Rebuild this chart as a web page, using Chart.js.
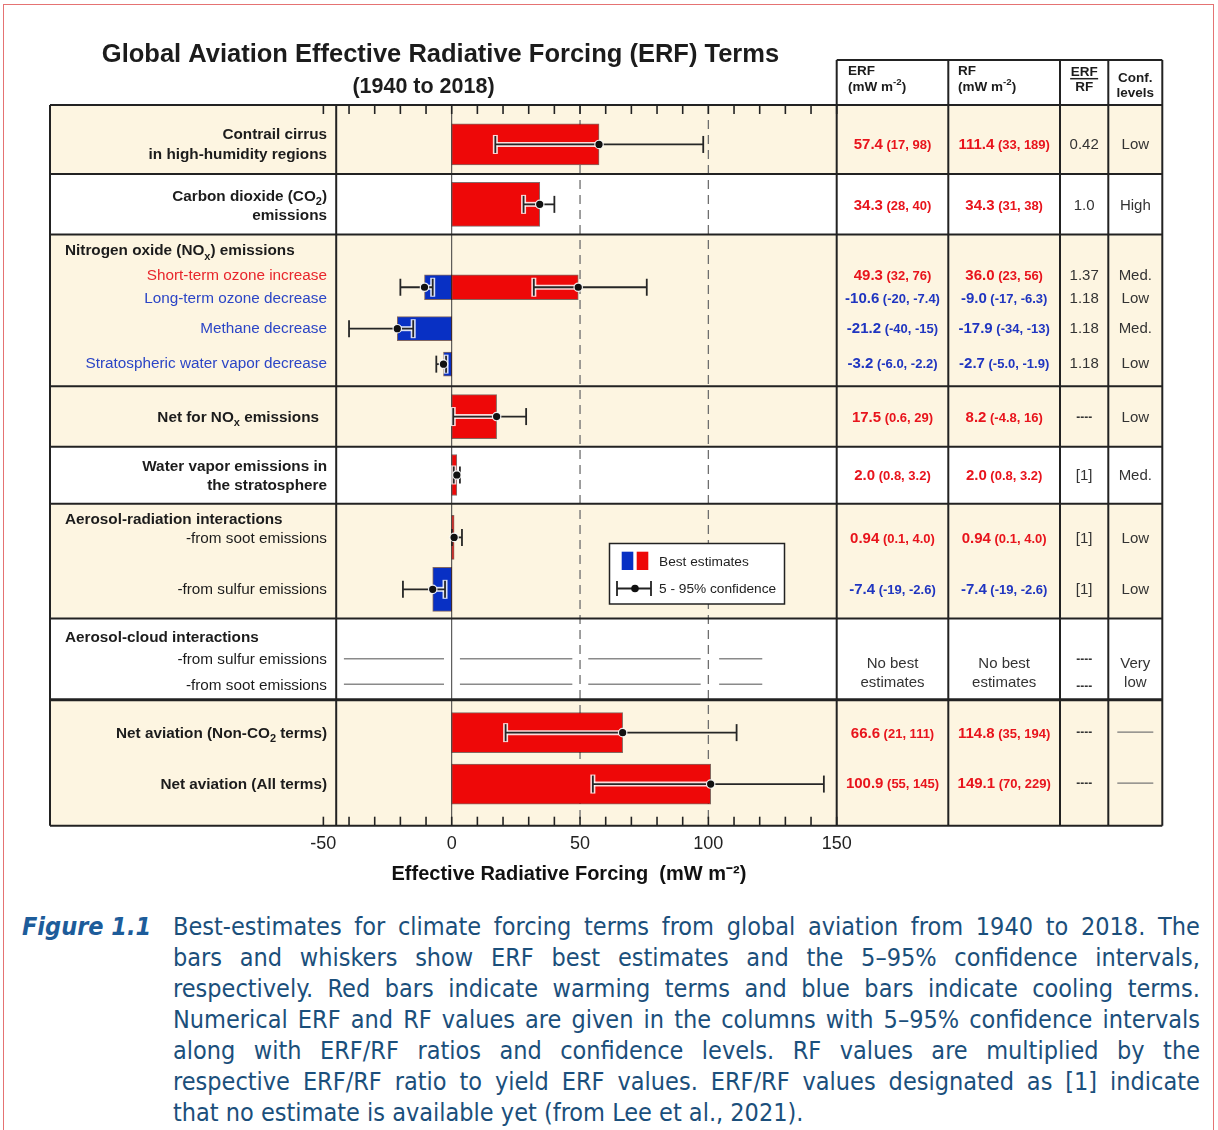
<!DOCTYPE html>
<html lang="en">
<head>
<meta charset="utf-8">
<title>Global Aviation ERF Terms</title>
<script src="https://cdn.jsdelivr.net/npm/chart.js@4.4.1/dist/chart.umd.min.js"></script>
<style>
  html, body { margin: 0; padding: 0; background: #fff; }
  body { width: 1218px; height: 1130px; position: relative; overflow: hidden; }
  #frame { position: absolute; left: 3px; top: 4px; width: 1211px; height: 1200px; border: 1px solid #e57373; box-sizing: border-box; z-index: 2; pointer-events: none; }
  #chartBox { position: absolute; left: 0; top: 0; width: 1218px; height: 900px; z-index: 1; }
  #caption { position: absolute; left: 0; top: 911px; width: 1218px; color: #1b4f7b;
    font-family: "Liberation Sans Narrow", "DejaVu Sans Condensed", "Liberation Sans", sans-serif;
    font-size: 25px; line-height: 31px; }
  #caption .fig { position: absolute; left: 22px; top: 0; font-weight: bold; font-style: italic; color: #1d5c9a; }
  #caption .body { position: absolute; left: 173px; top: 0; width: 1027px; }
  #caption .ln { display: flex; justify-content: space-between; white-space: nowrap; }
  #caption .last { white-space: nowrap; }
</style>
</head>
<body>
<div id="chartBox"><canvas id="erfChart" width="1218" height="900"></canvas></div>
<div id="frame"></div>
<div id="caption"><div class="fig">Figure 1.1</div><div class="body" id="capBody"></div></div>
<script>
// ---- values (mW m-2) ----
const termNames = [
  'Contrail cirrus\nin high-humidity regions',
  'Carbon dioxide (CO_{2})\nemissions',
  'Short-term ozone increase',
  'Long-term ozone decrease',
  'Methane decrease',
  'Stratospheric water vapor decrease',
  'Net for NO_{x} emissions',
  'Water vapor emissions in\nthe stratosphere',
  '-from soot emissions',
  '-from sulfur emissions',
  'Net aviation (Non-CO_{2} terms)',
  'Net aviation (All terms)'
];
const erfBest = [57.4, 34.3, 49.3, -10.6, -21.2, -3.2, 17.5, 2.0, 0.94, -7.4, 66.6, 100.9];
const erfLow  = [17, 28, 32, -20, -40, -6.0, 0.6, 0.8, 0.1, -19, 21, 55];
const erfHigh = [98, 40, 76, -7.4, -15, -2.2, 29, 3.2, 4.0, -2.6, 111, 145];
const rfBest  = [111.4, 34.3, 36.0, -9.0, -17.9, -2.7, 8.2, 2.0, 0.94, -7.4, 114.8, 149.1];
const rfLow   = [33, 31, 23, -17, -34, -5.0, -4.8, 0.8, 0.1, -19, 35, 70];
const rfHigh  = [189, 38, 56, -6.3, -13, -1.9, 16, 3.2, 4.0, -2.6, 194, 229];
const erfRfRatio = ['0.42', '1.0', '1.37', '1.18', '1.18', '1.18', '----', '[1]', '[1]', '[1]', '----', '----'];
const confLevel  = ['Low', 'High', 'Med.', 'Low', 'Med.', 'Low', 'Low', 'Med.', 'Low', 'Low', '', ''];
const groupHeads = ['Nitrogen oxide (NO_{x}) emissions', 'Aerosol-radiation interactions', 'Aerosol-cloud interactions'];
const cloudTerms = ['-from sulfur emissions', '-from soot emissions'];
const cloudSpans = [[-42, -3], [3.2, 47], [53.2, 97], [104.2, 121]];
const xTickLabels = [-50, 0, 50, 100, 150];
const refLines = [50, 100];

// ---- layout (vertical slots: 1 slot = 10 px of plot height) ----
const barSlot   = [3.95, 9.95, 18.25, 18.25, 22.4, 25.95, 31.2, 37.05, 43.3, 48.5, 62.85, 68.0];
const barPx     = [41, 44, 25, 25, 24, 24, 44, 41, 44, 44, 40, 40];
const textSlot  = [3.85, 10.0, 17.0, 19.3, 22.3, 25.8, 31.2, 37.05, 43.3, 48.45, 62.8, 67.9];
const labelKind = ['b', 'b', 'c', 'c', 'c', 'c', 'b', 'b', 'n', 'n', 'b', 'b'];
const headSlot  = [14.5, 41.4, 53.25];
const cloudSlot = [55.45, 58.0];
const rowEdges  = [0, 6.9, 12.97, 28.17, 34.23, 39.93, 51.43, 59.57, 72.17];
const rowFill   = ['#fdf5e1', '#ffffff', '#fdf5e1', '#fdf5e1', '#ffffff', '#fdf5e1', '#ffffff', '#fdf5e1'];
const tableCols = [836.7, 948.3, 1060, 1108.3, 1162.3];
const tableLeft = 50, headerTop = 60, labelRight = 327;

const FONT = '"Liberation Sans", Arial, Helvetica, sans-serif';
const RED = '#ee0808', BLUE = '#0830c4';
const TRED = '#e8141c', TBLUE = '#1f35c0';
const LRED = '#e8262c', LBLUE = '#2b45c6';
const INK = '#1c1c1c';

function seg(ctx, x0, y0, x1, y1) {
  ctx.beginPath(); ctx.moveTo(x0, y0); ctx.lineTo(x1, y1); ctx.stroke();
}

// text with _{sub} and ^{sup} parts, y = visual centre of capitals
function drawRich(ctx, str, x, y, align, size, weight, color) {
  const parts = [];
  const re = /([_^])\{([^}]*)\}/g;
  let last = 0, m;
  while ((m = re.exec(str))) {
    if (m.index > last) parts.push({ t: str.slice(last, m.index), k: '' });
    parts.push({ t: m[2], k: m[1] });
    last = re.lastIndex;
  }
  if (last < str.length) parts.push({ t: str.slice(last), k: '' });
  const fontFor = k => `${weight} ${k ? size * 0.72 : size}px ${FONT}`;
  let w = 0;
  parts.forEach(p => { ctx.font = fontFor(p.k); p.w = ctx.measureText(p.t).width; w += p.w; });
  let cx = align === 'right' ? x - w : align === 'center' ? x - w / 2 : x;
  const base = y + size * 0.36;
  ctx.fillStyle = color;
  ctx.textAlign = 'left';
  ctx.textBaseline = 'alphabetic';
  parts.forEach(p => {
    ctx.font = fontFor(p.k);
    const dy = p.k === '_' ? size * 0.28 : p.k === '^' ? -size * 0.4 : 0;
    ctx.fillText(p.t, cx, base + dy);
    cx += p.w;
  });
}

function decimals(v) {
  const s = String(v), k = s.indexOf('.');
  return k < 0 ? 0 : s.length - k - 1;
}
const fmtBest = v => v.toFixed(Math.max(1, decimals(v)));
const fmtCI = v => Math.abs(v) < 10 ? v.toFixed(Math.max(1, decimals(v))) : String(v);

function drawValue(ctx, best, lo, hi, cx, y) {
  const a = fmtBest(best), b = ` (${fmtCI(lo)}, ${fmtCI(hi)})`;
  ctx.font = `bold 15px ${FONT}`;
  const wa = ctx.measureText(a).width;
  ctx.font = `bold 13px ${FONT}`;
  const wb = ctx.measureText(b).width;
  const x = cx - (wa + wb) / 2, base = y + 5.4;
  ctx.fillStyle = best < 0 ? TBLUE : TRED;
  ctx.textAlign = 'left';
  ctx.textBaseline = 'alphabetic';
  ctx.font = `bold 15px ${FONT}`;
  ctx.fillText(a, x, base);
  ctx.font = `bold 13px ${FONT}`;
  ctx.fillText(b, x + wa, base);
}

function plainText(ctx, str, x, y, align, size, weight, color) {
  ctx.font = `${weight} ${size}px ${FONT}`;
  ctx.fillStyle = color;
  ctx.textAlign = align;
  ctx.textBaseline = 'alphabetic';
  ctx.fillText(str, x, y + size * 0.36);
}

function drawWhiskers(chart) {
  const { ctx } = chart;
  const xs = chart.scales.x, ys = chart.scales.y;
  const cap = 8.5, zero = xs.getPixelForValue(0);
  ctx.save();
  ctx.lineCap = 'butt';
  erfBest.forEach((v, i) => {
    const y = ys.getPixelForValue(barSlot[i]);
    const xl = xs.getPixelForValue(erfLow[i]), xh = xs.getPixelForValue(erfHigh[i]);
    const xb = xs.getPixelForValue(v);
    const bl = Math.min(zero, xb), br = Math.max(zero, xb);
    // light edge where the whisker runs over the bar
    ctx.strokeStyle = 'rgba(255,255,255,0.85)';
    ctx.lineWidth = 5;
    const hl = Math.max(xl, bl), hr = Math.min(xh, br);
    if (hr > hl) seg(ctx, hl, y, hr, y);
    [xl, xh].forEach(x => { if (x > bl + 1 && x < br - 1) seg(ctx, x, y - cap - 1, x, y + cap + 1); });
    ctx.strokeStyle = '#262626';
    ctx.lineWidth = 1.8;
    seg(ctx, xl, y, xh, y);
    seg(ctx, xl, y - cap, xl, y + cap);
    seg(ctx, xh, y - cap, xh, y + cap);
  });
  ctx.restore();
}

function drawLegend(ctx) {
  ctx.save();
  ctx.fillStyle = '#fff';
  ctx.fillRect(609.5, 543.5, 175, 60.5);
  ctx.strokeStyle = '#222';
  ctx.lineWidth = 1.5;
  ctx.strokeRect(609.5, 543.5, 175, 60.5);
  ctx.fillStyle = BLUE;
  ctx.fillRect(621.7, 551.7, 11.6, 18.3);
  ctx.fillStyle = RED;
  ctx.fillRect(636.7, 551.7, 11.6, 18.3);
  plainText(ctx, 'Best estimates', 659, 561, 'left', 13.7, 'normal', '#222');
  ctx.strokeStyle = '#222';
  ctx.lineWidth = 1.8;
  seg(ctx, 617, 588.5, 651, 588.5);
  seg(ctx, 617, 581, 617, 596);
  seg(ctx, 651, 581, 651, 596);
  ctx.fillStyle = '#111';
  ctx.beginPath(); ctx.arc(635, 588.5, 3.8, 0, Math.PI * 2); ctx.fill();
  plainText(ctx, '5 - 95% confidence', 659, 588.5, 'left', 13.7, 'normal', '#222');
  ctx.restore();
}

const figurePlugin = {
  id: 'figure',
  beforeDraw(chart) {
    const { ctx } = chart;
    const xs = chart.scales.x, ys = chart.scales.y;
    const top = ys.getPixelForValue(0), bottom = ys.getPixelForValue(rowEdges[rowEdges.length - 1]);
    ctx.save();
    ctx.fillStyle = '#fff';
    ctx.fillRect(0, 0, chart.width, chart.height);
    for (let r = 0; r < rowFill.length; r++) {
      const y0 = ys.getPixelForValue(rowEdges[r]), y1 = ys.getPixelForValue(rowEdges[r + 1]);
      ctx.fillStyle = rowFill[r];
      ctx.fillRect(tableLeft, y0, tableCols[4] - tableLeft, y1 - y0);
    }
    ctx.setLineDash([9, 6]);
    ctx.strokeStyle = '#6e6e6e';
    ctx.lineWidth = 1.3;
    refLines.forEach(v => {
      const x = xs.getPixelForValue(v);
      seg(ctx, x, top, x, bottom);
    });
    ctx.setLineDash([]);
    ctx.strokeStyle = '#3a3a3a';
    ctx.lineWidth = 1;
    const x0 = xs.getPixelForValue(0);
    seg(ctx, x0, top, x0, bottom);
    ctx.restore();
  },
  beforeDatasetDraw(chart, args) {
    if (args.index === chart.data.datasets.length - 1) drawWhiskers(chart);
  },
  afterDatasetsDraw(chart) {
    const { ctx } = chart;
    const xs = chart.scales.x, ys = chart.scales.y;
    const top = ys.getPixelForValue(0), bottom = ys.getPixelForValue(rowEdges[rowEdges.length - 1]);
    const plotLeft = xs.getPixelForValue(-45);
    ctx.save();

    // inward tick marks, every 10
    ctx.strokeStyle = '#222';
    ctx.lineWidth = 1.6;
    for (let v = -50; v <= 150; v += 10) {
      const x = xs.getPixelForValue(v);
      seg(ctx, x, top, x, top + 9);
      seg(ctx, x, bottom - 9, x, bottom);
    }

    // grid of the table
    ctx.strokeStyle = '#222';
    rowEdges.forEach((e, k) => {
      const y = ys.getPixelForValue(e);
      ctx.lineWidth = k === 7 ? 3 : 2;
      seg(ctx, tableLeft, y, tableCols[4], y);
    });
    ctx.lineWidth = 2;
    seg(ctx, tableCols[0], headerTop, tableCols[4], headerTop);
    seg(ctx, tableLeft, top, tableLeft, bottom);
    seg(ctx, plotLeft, top, plotLeft, bottom);
    tableCols.forEach(x => seg(ctx, x, headerTop, x, bottom));

    // header
    drawRich(ctx, 'ERF', 848, 70.5, 'left', 13.5, 'bold', INK);
    drawRich(ctx, '(mW m^{-2})', 848, 86, 'left', 13.5, 'bold', INK);
    drawRich(ctx, 'RF', 958, 70.5, 'left', 13.5, 'bold', INK);
    drawRich(ctx, '(mW m^{-2})', 958, 86, 'left', 13.5, 'bold', INK);
    const rc = (tableCols[2] + tableCols[3]) / 2, cc = (tableCols[3] + tableCols[4]) / 2;
    drawRich(ctx, 'ERF', rc, 71, 'center', 13.5, 'bold', INK);
    ctx.lineWidth = 1.5;
    seg(ctx, rc - 14, 78.7, rc + 14, 78.7);
    drawRich(ctx, 'RF', rc, 86, 'center', 13.5, 'bold', INK);
    drawRich(ctx, 'Conf.', cc, 77, 'center', 13.5, 'bold', INK);
    drawRich(ctx, 'levels', cc, 92, 'center', 13.5, 'bold', INK);

    // left column labels
    termNames.forEach((name, i) => {
      const lines = name.split('\n');
      const yc = ys.getPixelForValue(textSlot[i]);
      const kind = labelKind[i];
      const color = kind === 'c' ? (erfBest[i] < 0 ? LBLUE : LRED) : INK;
      const weight = kind === 'b' ? 'bold' : 'normal';
      const right = i === 6 ? labelRight - 8 : labelRight;
      lines.forEach((ln, k) => {
        const y = yc + (k - (lines.length - 1) / 2) * 19.5;
        drawRich(ctx, ln, right, y, 'right', 15.3, weight, color);
      });
    });
    groupHeads.forEach((h, k) => drawRich(ctx, h, 65, ys.getPixelForValue(headSlot[k]), 'left', 15.3, 'bold', INK));
    cloudTerms.forEach((t, k) => drawRich(ctx, t, labelRight, ys.getPixelForValue(cloudSlot[k]), 'right', 15.3, 'normal', INK));

    // table values
    const c0 = (tableCols[0] + tableCols[1]) / 2, c1 = (tableCols[1] + tableCols[2]) / 2;
    erfBest.forEach((v, i) => {
      const y = ys.getPixelForValue(textSlot[i]);
      drawValue(ctx, v, erfLow[i], erfHigh[i], c0, y);
      drawValue(ctx, rfBest[i], rfLow[i], rfHigh[i], c1, y);
      const r = erfRfRatio[i];
      if (r === '----') plainText(ctx, r, rc, y, 'center', 12, 'bold', '#333');
      else plainText(ctx, r, rc, y, 'center', 15, 'normal', '#333');
      if (confLevel[i]) plainText(ctx, confLevel[i], cc, y, 'center', 15, 'normal', '#333');
      else {
        ctx.strokeStyle = '#777';
        ctx.lineWidth = 1.2;
        seg(ctx, cc - 18, y, cc + 18, y);
      }
    });
    // aerosol-cloud row: no best estimates
    const ya = ys.getPixelForValue(55.85), yb = ys.getPixelForValue(57.75);
    plainText(ctx, 'No best', c0, ya, 'center', 15, 'normal', '#333');
    plainText(ctx, 'estimates', c0, yb, 'center', 15, 'normal', '#333');
    plainText(ctx, 'No best', c1, ya, 'center', 15, 'normal', '#333');
    plainText(ctx, 'estimates', c1, yb, 'center', 15, 'normal', '#333');
    plainText(ctx, '----', rc, ys.getPixelForValue(cloudSlot[0]), 'center', 12, 'bold', '#333');
    plainText(ctx, '----', rc, ys.getPixelForValue(cloudSlot[1] + 0.1), 'center', 12, 'bold', '#333');
    plainText(ctx, 'Very', cc, ya, 'center', 15, 'normal', '#333');
    plainText(ctx, 'low', cc, yb, 'center', 15, 'normal', '#333');

    drawLegend(ctx);

    // title
    plainText(ctx, 'Global Aviation Effective Radiative Forcing (ERF) Terms', 440.5, 53, 'center', 25.5, 'bold', INK);
    plainText(ctx, '(1940 to 2018)', 423.5, 85, 'center', 21.5, 'bold', INK);
    ctx.restore();
  }
};

// ---- datasets ----
const datasets = erfBest.map((v, i) => ({
  type: 'bar',
  label: termNames[i].replace('\n', ' '),
  data: [{ x: v, y: barSlot[i] }],
  indexAxis: 'y',
  grouped: false,
  barThickness: barPx[i],
  backgroundColor: v < 0 ? BLUE : RED,
  borderColor: 'rgba(50, 10, 10, 0.6)',
  borderWidth: 1,
  borderSkipped: false,
  order: 3
}));

const cloudPoints = [];
cloudSlot.forEach(s => {
  cloudSpans.forEach(([a, b]) => {
    cloudPoints.push({ x: a, y: s }, { x: b, y: s }, { x: b, y: null });
  });
});
datasets.push({
  type: 'line',
  label: 'Aerosol-cloud (no best estimate)',
  data: cloudPoints,
  indexAxis: 'x',
  borderColor: '#8a8a8a',
  borderWidth: 1.5,
  pointRadius: 0,
  spanGaps: false,
  order: 2
});

datasets.push({
  type: 'line',
  label: 'Best estimate',
  data: erfBest.map((v, i) => ({ x: v, y: barSlot[i] })),
  indexAxis: 'x',
  showLine: false,
  pointRadius: 4.2,
  pointBackgroundColor: '#111',
  pointBorderColor: 'rgba(255,255,255,0.9)',
  pointBorderWidth: 1.2,
  order: 0
});

new Chart(document.getElementById('erfChart'), {
  type: 'bar',
  data: { datasets },
  plugins: [figurePlugin],
  options: {
    responsive: false,
    animation: false,
    devicePixelRatio: 1,
    indexAxis: 'y',
    layout: { padding: { left: 323.37, right: 381.3, top: 105, bottom: 13.6 } },
    scales: {
      x: {
        type: 'linear',
        position: 'bottom',
        min: -50,
        max: 150,
        afterBuildTicks: scale => { scale.ticks = xTickLabels.map(v => ({ value: v })); },
        grid: { display: false, drawTicks: false },
        border: { display: false },
        ticks: { color: '#222', font: { family: FONT, size: 18 }, padding: 7.3, maxRotation: 0 },
        title: {
          display: true,
          text: 'Effective Radiative Forcing  (mW m⁻²)    ',
          color: '#111',
          font: { family: FONT, size: 20, weight: 'bold' },
          padding: { top: 0.5, bottom: 0 }
        }
      },
      y: {
        type: 'linear',
        min: 0,
        max: 72.17,
        reverse: true,
        offset: false,
        display: false
      }
    },
    plugins: {
      legend: { display: false },
      tooltip: { enabled: false },
      title: { display: false }
    }
  }
});

// ---- caption ----
const captionLines = [
  'Best-estimates for climate forcing terms from global aviation from 1940 to 2018. The',
  'bars and whiskers show ERF best estimates and the 5\u201395% confidence intervals,',
  'respectively. Red bars indicate warming terms and blue bars indicate cooling terms.',
  'Numerical ERF and RF values are given in the columns with 5\u201395% confidence intervals',
  'along with ERF/RF ratios and confidence levels. RF values are multiplied by the',
  'respective ERF/RF ratio to yield ERF values. ERF/RF values designated as [1] indicate',
  'that no estimate is available yet (from Lee et al., 2021).'
];
const capBody = document.getElementById('capBody');
captionLines.forEach((line, k) => {
  const div = document.createElement('div');
  if (k === captionLines.length - 1) {
    div.className = 'last';
    div.textContent = line;
  } else {
    div.className = 'ln';
    line.split(' ').forEach(w => {
      const s = document.createElement('span');
      s.textContent = w;
      div.appendChild(s);
    });
  }
  capBody.appendChild(div);
});
</script>
</body>
</html>
